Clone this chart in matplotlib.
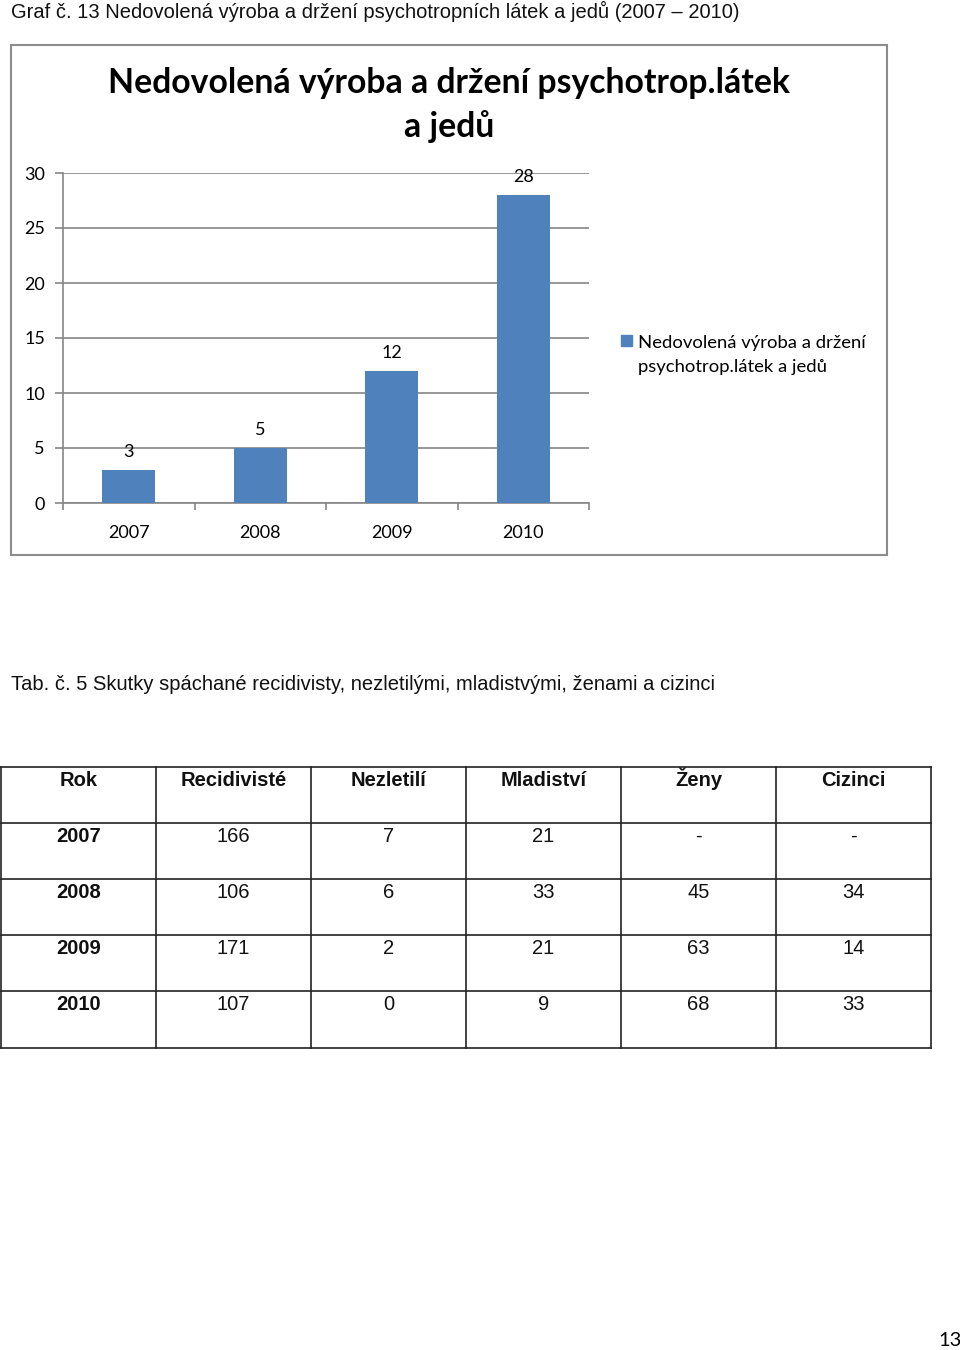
import matplotlib
matplotlib.use('Agg')
import matplotlib.pyplot as plt
from matplotlib.patches import Rectangle

# Chart data
years = ['2007', '2008', '2009', '2010']
counts = [3, 5, 12, 28]
series_name = 'Nedovolená výroba a držení\npsychotrop.látek a jedů'

# Table data
table_header = ['Rok', 'Recidivisté', 'Nezletilí', 'Mladiství', 'Ženy', 'Cizinci']
table_years = ['2007', '2008', '2009', '2010']
recidiviste = ['166', '106', '171', '107']
nezletili = ['7', '6', '2', '0']
mladistvi = ['21', '33', '21', '9']
zeny = ['-', '45', '63', '68']
cizinci = ['-', '34', '14', '33']

W, H = 960, 1350
BLUE = '#4f81bd'
GRID = '#868686'
CAL = ['Lato', 'DejaVu Sans']
ARIAL = ['Liberation Sans', 'DejaVu Sans']

fig = plt.figure(figsize=(W / 100, H / 100), dpi=100)
fig.patch.set_facecolor('white')

# full-page overlay axes in pixel coords (y down)
page = fig.add_axes([0, 0, 1, 1])
page.set_xlim(0, W)
page.set_ylim(H, 0)
page.axis('off')

page.text(11, 11, 'Graf č. 13 Nedovolená výroba a držení psychotropních látek a jedů (2007 – 2010)',
          family=ARIAL, fontsize=14.5, va='center', ha='left', color='#111111')

# chart frame
page.add_patch(Rectangle((11, 45), 876, 510, fill=False, edgecolor='#8c8c8c', lw=1.5))
page.text(449, 83, 'Nedovolená výroba a držení psychotrop.látek', family=CAL,
          fontweight='bold', fontsize=24.3, ha='center', va='center')
page.text(449, 127, 'a jedů', family=CAL, fontweight='bold', fontsize=24.3,
          ha='center', va='center')

# bar chart
ax = fig.add_axes([63 / W, 1 - 503 / H, (589 - 63) / W, (503 - 173) / H])
x = range(len(years))
bars = ax.bar(x, counts, width=0.4, color=BLUE, zorder=3)
ax.set_xlim(-0.5, 3.5)
ax.set_ylim(0, 30)
ax.set_yticks(range(0, 31, 5))
ax.set_xticks(x)
ax.set_xticklabels(years)
ax.set_xticks([-0.5, 0.5, 1.5, 2.5, 3.5], minor=True)
ax.tick_params(axis='x', which='major', length=0, pad=16)
ax.tick_params(axis='x', which='minor', length=5, color=GRID, width=1.2)
ax.tick_params(axis='y', length=6, color=GRID, width=1.2, pad=7)
for lab in ax.get_xticklabels() + ax.get_yticklabels():
    lab.set_family(CAL)
    lab.set_fontsize(13)
ax.grid(axis='y', color=GRID, lw=1.2, zorder=0)
for s in ['top', 'right']:
    ax.spines[s].set_visible(False)
for s in ['left', 'bottom']:
    ax.spines[s].set_color(GRID)
    ax.spines[s].set_linewidth(1.2)
ax.set_facecolor('none')
for t in ax.bar_label(bars, padding=7):
    t.set_family(CAL)
    t.set_fontsize(13)

# legend (key aligned with first line, as in the original)
page.add_patch(Rectangle((621, 335), 11, 11, color=BLUE))
page.text(638, 335, series_name, family=CAL, fontsize=13.3, ha='left', va='top',
          linespacing=1.6)

# table
page.text(11, 685, 'Tab. č. 5 Skutky spáchané recidivisty, nezletilými, mladistvými, ženami a cizinci',
          family=ARIAL, fontsize=14.5, va='center', ha='left', color='#111111')

col_x = [1, 156, 311, 466, 621, 776, 931]
row_y = [767, 823, 879, 935, 991, 1048]
for cx in col_x:
    page.plot([cx, cx], [row_y[0], row_y[-1]], color='#222222', lw=1.2)
for ry in row_y:
    page.plot([col_x[0], col_x[-1]], [ry, ry], color='#222222', lw=1.2)

rows = [table_header] + [list(r) for r in zip(table_years, recidiviste, nezletili, mladistvi, zeny, cizinci)]
for i, row in enumerate(rows):
    for j, val in enumerate(row):
        bold = i == 0 or j == 0
        page.text((col_x[j] + col_x[j + 1]) / 2, row_y[i] + 18.5, val, family=ARIAL,
                  fontsize=14.5, fontweight='bold' if bold else 'normal',
                  ha='center', va='baseline', color='#111111')

page.text(950, 1341, '13', family=CAL, fontsize=14.5, ha='center', va='center')

fig.savefig('out.png', dpi=100, facecolor='white')
